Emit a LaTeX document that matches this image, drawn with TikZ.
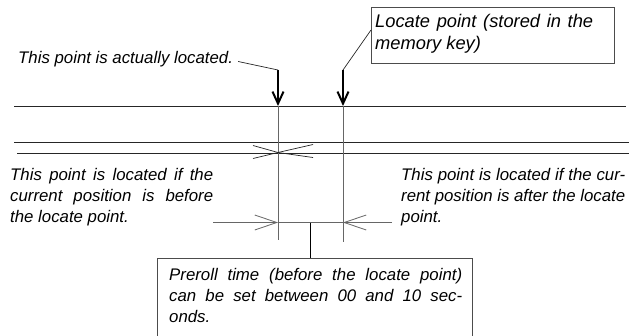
\documentclass[tikz,border=0pt]{standalone}
\usepackage{fontspec}
\setmainfont{Liberation Sans}
\usetikzlibrary{arrows.meta}
\begin{document}
\begin{tikzpicture}[x=1pt,y=-1pt,
  hline/.style={draw=black!85,line width=0.9pt},
  vline/.style={draw=black!60,line width=0.9pt},
  thin/.style={draw=black!85,line width=0.7pt},
  bigarrow/.style={draw=black,line width=2pt,-{Straight Barb[length=12pt,width=11pt]}},
  dimarrow/.style={draw=black!60,line width=0.9pt,-{Straight Barb[length=22pt,width=15pt,line width=0.8pt]}},
  frame/.style={draw=black!70,line width=0.9pt,fill=none,inner sep=0pt},
  txt/.style={inner sep=0pt,anchor=base west,font=\fontsize{16.8}{21}\selectfont\itshape},
  bigtxt/.style={inner sep=0pt,anchor=base west,font=\fontsize{18.3}{21.5}\selectfont\itshape}]
\useasboundingbox (0,0) rectangle (642,335);
\clip (0,0) rectangle (642,335);

% horizontal tape lines
\draw[hline] (14,106) coordinate (h1a) -- (626,106) coordinate (h1b);
\draw[hline] (14,142) coordinate (h2a) -- (629,142) coordinate (h2b);
\draw[hline] (17,153) coordinate (h3a) -- (629,153) coordinate (h3b);

% vertical lines
\coordinate (pA) at (278,106);
\coordinate (pB) at (343,106);
\coordinate (pAbot) at (278,240);
\coordinate (pBbot) at (343,242);
\draw[vline] (pA) -- (pAbot);
\draw[vline] (pB) -- (pBbot);

% big arrows
\coordinate (aTop) at (278,70);
\coordinate (bTop) at (343,70);
\draw[bigarrow] (aTop) -- (pA);
\draw[bigarrow] (bTop) -- (pB);

% cross
\coordinate (xc) at (278,152.5);
\draw[thin] (253,145.5) -- (xc) -- (313,157.5);
\draw[thin] (253,158.5) -- (xc) -- (313,144.5);

% text: actually located
\node[txt] (act) at (18,63.5) {This point is actually located.};
\draw[thin] ([xshift=5pt,yshift=2pt]act.base east) -- (aTop);

% locate point box
\node[frame,anchor=north west,minimum width=243pt,minimum height=56pt] (lbox) at (371,7) {};
\node[bigtxt] (ltext) at (375,27.5) {\parbox[t]{218pt}{\makebox[\linewidth][s]{Locate point (stored in the}\\memory key)}};
\coordinate (lleader) at (371,30);
\draw[thin] (lleader) -- (bTop);

% left paragraph
\node[txt] (left) at (10,180) {\parbox[t]{203pt}{\makebox[\linewidth][s]{This point is located if the}\\\makebox[\linewidth][s]{current position is before}\\the locate point.}};

% right paragraph
\node[txt] (right) at (401,180) {\parbox[t]{224pt}{\makebox[\linewidth][s]{This point is located if the cur-}\\\makebox[\linewidth][s]{rent position is after the locate}\\point.}};

% dimension line
\coordinate (dA) at (278,222.5);
\coordinate (dB) at (343,222.5);
\coordinate (dL) at (213,222.5);
\coordinate (dR) at (392,222.5);
\coordinate (dM) at (310,222.5);
\draw[dimarrow] (dL) -- (dA);
\draw[dimarrow] (dR) -- (dB);
\draw[vline] (dA) -- (dB);

% preroll box
\node[frame,anchor=north west,minimum width=315pt,minimum height=100pt] (pbox) at (157,257.5) {};
\draw[draw=black,line width=0.9pt] (dM) -- (dM |- pbox.north);
\node[txt] (ptext) at (169,280) {\parbox[t]{293pt}{\makebox[\linewidth][s]{Preroll time (before the locate point)}\\\makebox[\linewidth][s]{can be set between 00 and 10 sec-}\\onds.}};
\end{tikzpicture}
\end{document}
